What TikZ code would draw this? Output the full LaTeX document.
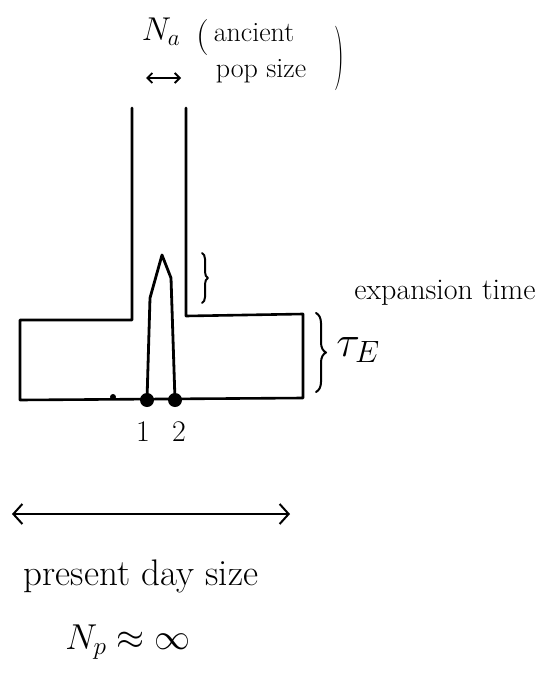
\RequirePackage{fix-cm}
\documentclass[tikz,border=0pt]{standalone}
\usetikzlibrary{arrows.meta,decorations.pathreplacing}
\begin{document}
\begin{tikzpicture}[x=1pt,y=-1pt,line join=round,line cap=round,
  wall/.style={line width=2.6pt},
  lineage/.style={line width=2.8pt},
  sample/.style={circle,fill=black,inner sep=0pt,minimum size=14pt},
  smalldot/.style={circle,fill=black,inner sep=0pt,minimum size=6pt},
  bracestyle/.style={line width=2pt,decorate,decoration={brace,amplitude=#1}},
  sizearrow/.style={line width=2pt,{Straight Barb[length=9pt,width=20pt,line width=2pt]}-{Straight Barb[length=9pt,width=20pt,line width=2pt]}},
  txt/.style={inner sep=0pt,font=\fontsize{#1}{#1}\selectfont}]
\useasboundingbox (0,0) rectangle (539,677);
% population outline
\draw[wall] (132,108) -- (132,320) -- (20,320) -- (20,400) -- (303,398) -- (303,314) -- (186,316) -- (186,108);
% samples and lineages
\node[sample] (s1) at (147,400) {};
\node[sample] (s2) at (175,400) {};
\node[smalldot] (tick) at (113,397) {};
\coordinate (mrca) at (162,255);
\draw[lineage] (s1.center) -- (150,298) -- (mrca) -- (171,278) -- (s2.center);
\node[txt=30] (l1) at (143,432) {1};
\node[txt=30] (l2) at (179,432) {2};
% braces
\draw[bracestyle=6pt] (202,253) -- (202,303);
\draw[bracestyle=10pt] (316,313) -- (316,392);
\node[txt=44] (tau) at (358,350) {$\tau_E$};
\node[txt=30] (exp) at (445,293) {expansion time};
% ancient size
\node[txt=33] (na) at (161,32) {$N_a$};
\coordinate (al) at (146,78);
\coordinate (ar) at (181,78);
\draw[line width=1.8pt,{Straight Barb[length=5pt,width=10pt]}-{Straight Barb[length=5pt,width=10pt]}] (al) -- (ar);
\node[txt=36] (lp) at (203,38) {(};
\node[txt=28] (anc) at (254,33) {ancient};
\node[txt=28] (pop) at (261,71) {pop size};
\node[txt=28,yscale=2.3] (rp) at (339,58) {)};
% present size
\coordinate (pl) at (12,514);
\coordinate (pr) at (290,514);
\draw[sizearrow] (pl) -- (pr);
\node[txt=37] (pds) at (141,576) {present day size};
\node[txt=36] (np) at (128,642) {$N_p \approx \infty$};
\end{tikzpicture}
\end{document}
